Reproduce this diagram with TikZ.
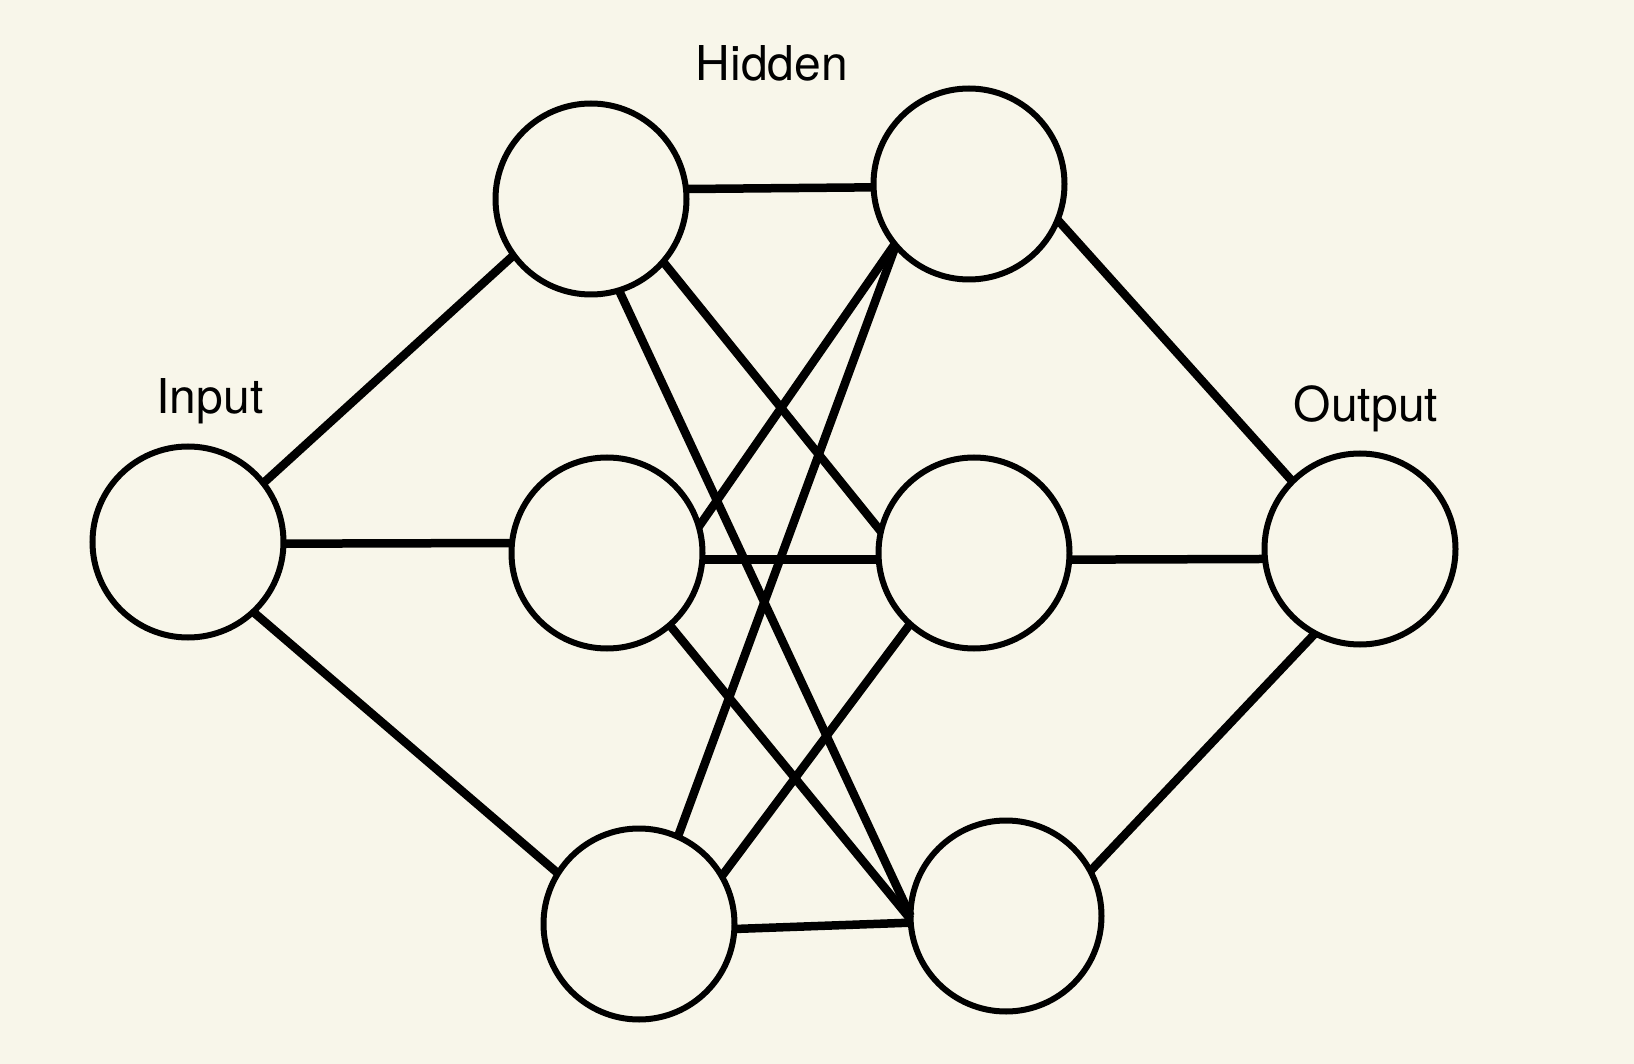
\documentclass[tikz,border=0pt]{standalone}
\usepackage{fontspec}
\setmainfont{TeX Gyre Heros}
\usepackage{xcolor}
\usetikzlibrary{positioning}
\definecolor{paper}{HTML}{F8F6EA}
\tikzset{
  neuron/.style={draw, circle, line width=6pt, minimum size=191pt, inner sep=0pt, outer sep=0pt},
  link/.style={line width=8.5pt},
  layer/.style={font=\fontsize{48}{56}\selectfont, anchor=base, inner sep=0pt}
}
\begin{document}
\begin{tikzpicture}[x=1pt, y=-1pt]
  \fill[paper] (0,0) rectangle (1634,1064);
  \useasboundingbox (0,0) rectangle (1634,1064);
  \node[neuron] (in) at (188,542) {};
  \node[neuron] (ha) at (591,199) {};
  \node[neuron] (hb) at (607,553) {};
  \node[neuron] (hc) at (639,924) {};
  \node[neuron] (ka) at (969,184) {};
  \node[neuron] (kb) at (974,553) {};
  \node[neuron] (kc) at (1006,916) {};
  \node[neuron] (out) at (1360,549) {};
  \node[layer] (lin) at (210,414) {Input};
  \node[layer] (lhid) at (772,81) {Hidden};
  \node[layer] (lout) at (1366,422) {Output};
  \draw[link] (in.-1.2) -- (hb.174.6);
  \draw[link] (in.38) -- (ha.216);
  \draw[link] (in.-47) -- (hc.148);
  \draw[link] (ha.6.2) -- (ka.182.8);
  \draw[link] (ha.-41) -- (kb.167);
  \draw[link] (ha.-73) -- (kc.180);
  \draw[link] (hb.16) -- (ka.-141);
  \draw[link] (hb.-4) -- (kb.184);
  \draw[link] (hb.-49) -- (kc.182);
  \draw[link] (hc.66) -- (ka.-140);
  \draw[link] (hc.30) -- (kb.-132);
  \draw[link] (hc.-3) -- (kc.184);
  \draw[link] (ka.-22) -- (out.135);
  \draw[link] (kb.-4) -- (out.186.4);
  \draw[link] (kc.28) -- (out.-118);
\end{tikzpicture}
\end{document}
